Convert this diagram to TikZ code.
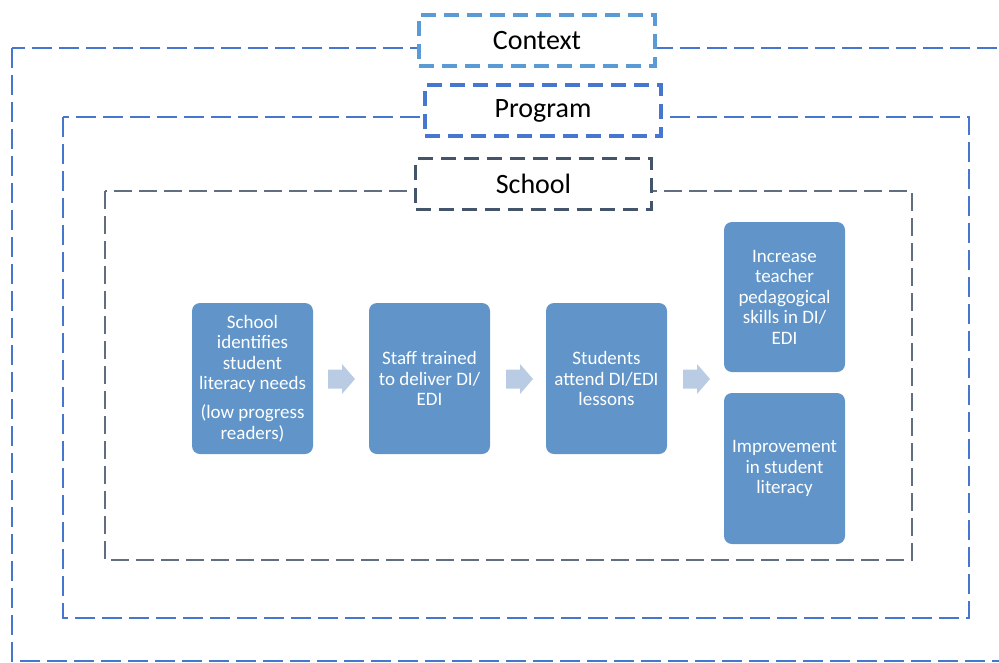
\documentclass[tikz,border=0pt]{standalone}
\usepackage{fontspec}
\setmainfont{Carlito}
\definecolor{ctxblue}{RGB}{91,155,213}
\definecolor{progblue}{RGB}{70,118,206}
\definecolor{schoolgray}{RGB}{68,84,106}
\definecolor{boxfill}{RGB}{97,149,201}
\definecolor{arrowfill}{RGB}{185,204,228}
\tikzset{
  outerline/.style={line width=2.2pt, dash pattern=on 20pt off 7pt},
  labelbox/.style={fill=white, line width=3.4pt, dash pattern=on 15pt off 8pt,
    minimum width=236pt, minimum height=51pt, inner sep=0pt,
    font=\fontsize{28}{30}\selectfont, text=black},
  stepbox/.style={fill=boxfill, rounded corners=8pt, minimum width=121pt,
    minimum height=151pt, inner sep=0pt, align=center, text=white,
    font=\fontsize{19}{20.5}\selectfont},
}
\newcommand{\myblockarrow}[3]{%
  \fill[arrowfill] (#2,#3-9.5) -- ++(14,0) -- ++(0,-5.5) -- ++(13,15) -- ++(-13,15)
    -- ++(0,-5.5) -- ++(-14,0) -- cycle;
  \coordinate (#1) at (#2+13.5,#3);}
\begin{document}
\begin{tikzpicture}[x=1pt,y=-1pt]
\useasboundingbox (0,0) rectangle (999,662);
% nested scopes
\draw[outerline, draw=progblue] (12,48) rectangle (1012,661);
\draw[outerline, draw=progblue] (63,117) rectangle (969,618);
\draw[draw=schoolgray!85, line width=1.9pt, dash pattern=on 18pt off 7pt] (105,191) rectangle (912,560);
% labels
\node[labelbox, draw=ctxblue] (ctx) at (537,40.5) {Context};
\node[labelbox, draw=progblue] (prog) at (543,110.5) {Program};
\node[labelbox, draw=schoolgray] (sch) at (533.5,184) {School};
% steps
\node[stepbox] (b1) at (252.5,378.5) {School\\identifies\\student\\literacy needs\\[8.5pt](low progress\\readers)};
\node[stepbox] (b2) at (429.5,378.5) {Staff trained\\to deliver DI/\\EDI};
\node[stepbox] (b3) at (606.5,378.5) {Students\\attend DI/EDI\\lessons};
\node[stepbox, minimum height=150pt] (b4) at (784.5,297) {Increase\\teacher\\pedagogical\\skills in DI/\\EDI};
\node[stepbox] (b5) at (784.5,468.5) {Improvement\\in student\\literacy};
% block arrows
\myblockarrow{a1}{328}{379}
\myblockarrow{a2}{506}{379}
\myblockarrow{a3}{683}{379}
\end{tikzpicture}
\end{document}
